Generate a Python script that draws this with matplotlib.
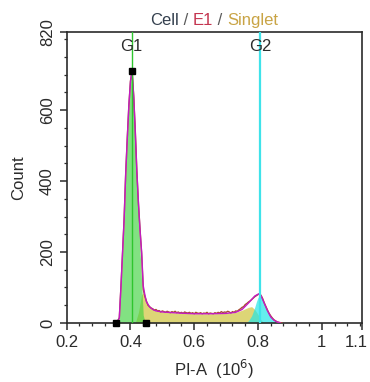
import matplotlib
matplotlib.use("Agg")
import matplotlib.pyplot as plt
import matplotlib.transforms as mtransforms
from matplotlib.ticker import MultipleLocator, FixedLocator
from matplotlib.offsetbox import TextArea, HPacker, AnchoredOffsetbox

plt.rcParams["font.family"] = ["Liberation Sans", "DejaVu Sans"]

# measured histogram (PI-A in 10^6, counts)
x_data = [0.350, 0.355, 0.360, 0.365, 0.370, 0.375, 0.380, 0.385, 0.390, 0.395,
          0.400, 0.405, 0.410, 0.415, 0.420, 0.425, 0.430, 0.435, 0.440, 0.445,
          0.450, 0.455, 0.460, 0.465, 0.470, 0.475, 0.480, 0.485, 0.490, 0.495,
          0.500, 0.505, 0.510, 0.515, 0.520, 0.525, 0.530, 0.535, 0.540, 0.545,
          0.550, 0.555, 0.560, 0.565, 0.570, 0.575, 0.580, 0.585, 0.590, 0.595,
          0.600, 0.605, 0.610, 0.615, 0.620, 0.625, 0.630, 0.635, 0.640, 0.645,
          0.650, 0.655, 0.660, 0.665, 0.670, 0.675, 0.680, 0.685, 0.690, 0.695,
          0.700, 0.705, 0.710, 0.715, 0.720, 0.725, 0.730, 0.735, 0.740, 0.745,
          0.750, 0.755, 0.760, 0.765, 0.770, 0.775, 0.780, 0.785, 0.790, 0.795,
          0.800, 0.805, 0.810, 0.815, 0.820, 0.825, 0.830, 0.835, 0.840, 0.845,
          0.850, 0.855, 0.860, 0.865, 0.870, 0.875]
y_data = [0, 2, 6, 14, 100, 195, 292, 420, 522, 612,
          682, 712, 642, 545, 430, 335, 265, 195, 95, 75,
          62, 50, 46, 42, 40, 36, 38, 34, 35, 31,
          34, 32, 30, 33, 31, 29, 32, 30, 33, 29,
          31, 28, 30, 27, 31, 29, 28, 30, 27, 29,
          26, 30, 28, 27, 29, 26, 28, 27, 30, 26,
          28, 27, 26, 29, 27, 30, 28, 32, 29, 31,
          30, 33, 31, 28, 32, 30, 34, 33, 37, 40,
          44, 46, 52, 55, 59, 62, 66, 70, 74, 77,
          80, 83, 77, 68, 56, 46, 36, 27, 20, 14,
          9, 6, 3, 2, 1, 0]

# overall model fit
x_fit = [0.355, 0.360, 0.365, 0.370, 0.375, 0.380, 0.385, 0.390, 0.395, 0.400,
         0.405, 0.410, 0.415, 0.420, 0.425, 0.430, 0.435, 0.440, 0.445, 0.450,
         0.460, 0.470, 0.480, 0.500, 0.550, 0.600, 0.650, 0.700, 0.730, 0.750,
         0.770, 0.780, 0.790, 0.800, 0.805, 0.810, 0.820, 0.830, 0.840, 0.850,
         0.860, 0.870]
y_fit = [0, 5, 15, 100, 195, 290, 420, 520, 615, 680,
         710, 640, 540, 425, 340, 260, 200, 105, 80, 60,
         45, 38, 34, 31, 28, 26, 26, 27, 30, 38,
         56, 66, 76, 81, 82, 76, 55, 34, 17, 8,
         3, 0]

# G1 component
x_g1 = [0.355, 0.360, 0.365, 0.370, 0.375, 0.380, 0.385, 0.390, 0.395, 0.400,
        0.405, 0.410, 0.415, 0.420, 0.425, 0.430, 0.435, 0.440, 0.445, 0.450]
y_g1 = [0, 4, 12, 95, 190, 288, 418, 518, 612, 678,
        708, 636, 530, 410, 305, 205, 118, 22, 5, 0]

# S-phase component
x_s = [0.415, 0.425, 0.435, 0.440, 0.445, 0.450, 0.460, 0.470, 0.480, 0.500,
       0.550, 0.600, 0.650, 0.700, 0.730, 0.750, 0.770, 0.780, 0.790, 0.800,
       0.810, 0.820]
y_s = [0, 30, 80, 85, 75, 60, 45, 38, 34, 31,
       28, 26, 26, 27, 30, 36, 44, 46, 38, 24,
       8, 0]

# G2 component
x_g2 = [0.760, 0.770, 0.780, 0.785, 0.790, 0.795, 0.800, 0.805, 0.810, 0.815,
        0.820, 0.830, 0.840, 0.850, 0.860, 0.870]
y_g2 = [0, 6, 20, 32, 45, 60, 72, 78, 74, 64,
        52, 32, 17, 8, 3, 0]

# gate markers / cursors
gate_x = [0.356, 0.404, 0.449]
gate_y = [0, 710, 0]
g1_pos = 0.404
g2_pos = 0.806

xticks = [0.2, 0.4, 0.6, 0.8, 1.0, 1.125]
xticklabels = ["0.2", "0.4", "0.6", "0.8", "1", "1.1"]
yticks = [0, 200, 400, 600, 820]

ink = "#2b2b2b"
fs = 12

fig = plt.figure(figsize=(3.70, 3.82), dpi=100)
ax = fig.add_axes([0.1803, 0.1545, 0.797, 0.7618])

ax.fill_between(x_s, y_s, color="#d8ce5e", alpha=0.85, lw=0, zorder=1)
ax.fill_between(x_g1, y_g1, color="#3fd23f", alpha=0.65, lw=0, zorder=2)
ax.fill_between(x_g2, y_g2, color="#22e6e6", alpha=0.7, lw=0, zorder=2)

ax.plot(x_data, y_data, color="#a8502e", lw=1.0, zorder=3)
ax.plot(x_fit, y_fit, color="#c21bc2", lw=1.0, zorder=4)

ax.axvline(g1_pos, color="#2ec52e", lw=1.0, zorder=5)
ax.axvline(g2_pos, color="#3fe3ea", lw=1.6, zorder=5)
ax.text(g1_pos, 778, "G1", ha="center", va="center", fontsize=fs, color=ink, zorder=6)
ax.text(g2_pos, 778, "G2", ha="center", va="center", fontsize=fs, color=ink, zorder=6)

ax.plot(gate_x, gate_y, ls="none", marker="s", ms=5, color="black", zorder=7, clip_on=False)

ax.set_xlim(0.2, 1.125)
ax.set_ylim(0, 820)
ax.xaxis.set_major_locator(FixedLocator(xticks))
ax.set_xticklabels(xticklabels)
ax.xaxis.set_minor_locator(MultipleLocator(0.04))
ax.yaxis.set_major_locator(FixedLocator(yticks))
ax.yaxis.set_minor_locator(MultipleLocator(50))
ax.tick_params(which="major", length=5, width=1.1, color=ink, labelcolor=ink, labelsize=fs)
ax.tick_params(axis="x", which="major", pad=4)
ax.tick_params(which="minor", length=2.5, width=0.9, color=ink)
for lab in ax.get_yticklabels():
    lab.set_rotation(90)
    lab.set_va("center")
# the last x label sits at the very edge, nudge it left a little
last = ax.get_xticklabels()[-1]
last.set_transform(last.get_transform() +
                   mtransforms.ScaledTranslation(-5 / 100, 0, fig.dpi_scale_trans))
for sp in ax.spines.values():
    sp.set_color(ink)
    sp.set_linewidth(1.2)

ax.set_xlabel("PI-A  (10$^6$)", fontsize=fs, color=ink, labelpad=5)
ax.set_ylabel("Count", fontsize=fs, color=ink, labelpad=10)

# multi-coloured title
parts = [("Cell", "#34404e"), (" / ", "#5a5a5a"), ("E1", "#c43550"),
         (" / ", "#5a5a5a"), ("Singlet", "#c9a445")]
boxes = [TextArea(t, textprops=dict(color=c, fontsize=fs)) for t, c in parts]
pack = HPacker(children=boxes, align="baseline", pad=0, sep=0)
title = AnchoredOffsetbox(loc="lower center", child=pack, pad=0, borderpad=0,
                          frameon=False, bbox_to_anchor=(0.5, 1.012),
                          bbox_transform=ax.transAxes)
ax.add_artist(title)

fig.savefig("out.png", dpi=100)
